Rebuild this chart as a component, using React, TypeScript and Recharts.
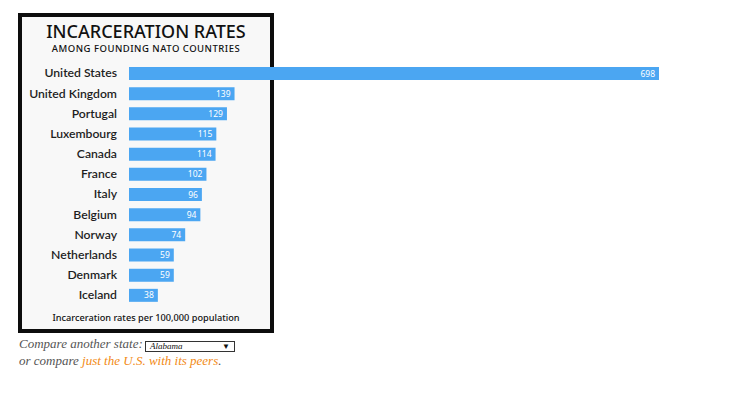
import { BarChart, Bar, XAxis, YAxis, LabelList } from "recharts";

const countries = [
  "United States",
  "United Kingdom",
  "Portugal",
  "Luxembourg",
  "Canada",
  "France",
  "Italy",
  "Belgium",
  "Norway",
  "Netherlands",
  "Denmark",
  "Iceland",
];

const rates = [698, 139, 129, 115, 114, 102, 96, 94, 74, 59, 59, 38];

const data = countries.map((country, i) => ({ country, rate: rates[i] }));

const BAR_BLUE = "#4ba6f2";
const SANS = "'Noto Sans', 'Open Sans', sans-serif";
const LABEL_FONT = "Lato, 'Noto Sans', sans-serif";
const SERIF = "'Liberation Serif', 'DejaVu Serif', serif";

function CountryTick({ y, payload }: { y?: number; payload?: { value: string } }) {
  return (
    <text x={109} y={y} dy="0.36em" textAnchor="end" fontFamily={LABEL_FONT} fontSize={12.2} fontWeight={600} fill="#1e1e1e">
      {payload?.value}
    </text>
  );
}

export default function App() {
  return (
    <div style={{ position: "relative", width: 725, height: 387 }}>
      <div
        style={{
          position: "absolute",
          left: 10,
          top: 5,
          width: 256,
          height: 320,
          boxSizing: "border-box",
          border: "4px solid #0d0d0d",
          background: "#f8f8f8",
        }}
      />
      <div
        style={{
          position: "absolute",
          left: 10,
          top: 14,
          width: 256,
          textAlign: "center",
          fontFamily: SANS,
          fontSize: 18,
          lineHeight: "18px",
          fontWeight: 500,
          color: "#111",
        }}
      >
        INCARCERATION RATES
      </div>
      <div
        style={{
          position: "absolute",
          left: 10,
          top: 36,
          width: 256,
          textAlign: "center",
          fontFamily: SANS,
          fontSize: 9.5,
          lineHeight: "9.5px",
          letterSpacing: 0.5,
          fontWeight: 500,
          color: "#111",
        }}
      >
        AMONG FOUNDING NATO COUNTRIES
      </div>
      <div
        style={{
          position: "absolute",
          left: 10,
          top: 305,
          width: 256,
          textAlign: "center",
          fontFamily: SANS,
          fontSize: 9.2,
          lineHeight: "9.2px",
          fontWeight: 500,
          color: "#111",
        }}
      >
        Incarceration rates per 100,000 population
      </div>
      <div style={{ position: "absolute", left: 0, top: 0 }}>
        <BarChart
          width={725}
          height={320}
          data={data}
          layout="vertical"
          margin={{ top: 55, right: 74, bottom: 23, left: 0 }}
          barSize={13}
        >
          <XAxis type="number" domain={[0, 698]} hide />
          <YAxis
            type="category"
            dataKey="country"
            width={121}
            axisLine={false}
            tickLine={false}
            tick={<CountryTick />}
            interval={0}
          />
          <Bar dataKey="rate" fill={BAR_BLUE} isAnimationActive={false}>
            <LabelList dataKey="rate" position="insideRight" offset={4} fill="#ffffff" fontSize={8.5} fontFamily={SANS} />
          </Bar>
        </BarChart>
      </div>
      <div
        style={{
          position: "absolute",
          left: 11,
          top: 329,
          fontFamily: SERIF,
          fontStyle: "italic",
          fontSize: 13,
          lineHeight: "13px",
          color: "#555",
          whiteSpace: "nowrap",
        }}
      >
        Compare another state:
      </div>
      <div
        style={{
          position: "absolute",
          left: 137,
          top: 333,
          width: 90,
          height: 11,
          boxSizing: "border-box",
          border: "1px solid #333",
          background: "#fff",
          fontFamily: SERIF,
          fontStyle: "italic",
          fontSize: 9,
          lineHeight: "9px",
          color: "#111",
        }}
      >
        <span style={{ position: "absolute", left: 4, top: 0 }}>Alabama</span>
        <span style={{ position: "absolute", right: 4, top: 0, fontStyle: "normal", fontSize: 8 }}>▼</span>
      </div>
      <div
        style={{
          position: "absolute",
          left: 11,
          top: 346,
          fontFamily: SERIF,
          fontStyle: "italic",
          fontSize: 13,
          lineHeight: "13px",
          color: "#555",
          whiteSpace: "nowrap",
        }}
      >
        or compare <span style={{ color: "#f28a14" }}>just the U.S. with its peers</span>.
      </div>
    </div>
  );
}
